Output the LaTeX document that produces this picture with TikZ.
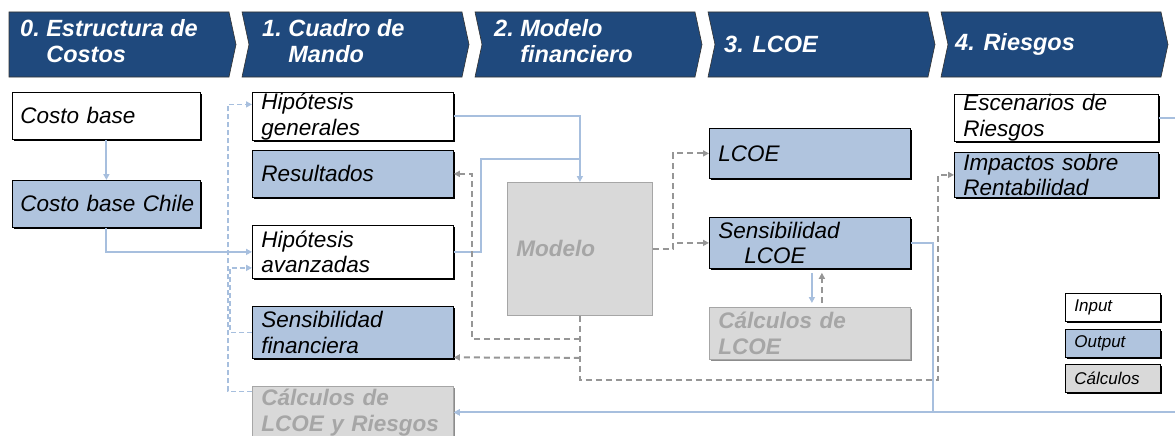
\documentclass[tikz,border=0pt]{standalone}
\usepackage{fontspec}
\setmainfont{Liberation Sans}
\usepackage{tikz}
\usetikzlibrary{arrows.meta,positioning,shadows}
\definecolor{hdrblue}{RGB}{31,73,125}
\definecolor{outblue}{RGB}{176,196,222}
\definecolor{lineblue}{RGB}{167,191,222}
\definecolor{calcgray}{RGB}{217,217,217}
\definecolor{calctext}{RGB}{166,166,166}
\definecolor{dashgray}{RGB}{150,150,150}

\begin{document}
\begin{tikzpicture}[
  x=1pt,y=-1pt,
  hdr/.style={fill=hdrblue,draw=black!80,line width=0.6pt},
  hdrtext/.style={anchor=west,text=white,inner sep=0pt,align=left,
                  font=\fontsize{23.5}{26}\selectfont\bfseries\itshape},
  box/.style={rectangle,anchor=north west,draw=black,line width=0.8pt,inner xsep=9pt,inner ysep=0pt,
              text width=183pt,minimum height=48pt,align=left,font=\fontsize{22.5}{25.5}\selectfont\itshape},
  shd/.style={drop shadow={shadow xshift=1.5pt,shadow yshift=-1.5pt,fill=black,opacity=1}},
  gshd/.style={drop shadow={shadow xshift=1.2pt,shadow yshift=-1.2pt,fill=black!45,opacity=1}},
  inbox/.style={box,shd,fill=white},
  outbox/.style={box,shd,fill=outblue},
  calcbox/.style={box,fill=calcgray,draw=calctext,text=calctext,
                  font=\fontsize{22.5}{25.5}\selectfont\bfseries\itshape},
  lgd/.style={box,shd,text width=77pt,minimum height=28pt,font=\fontsize{17}{19}\selectfont\itshape},
  bline/.style={lineblue,line width=2pt},
  barrow/.style={bline,-{Triangle[length=6pt,width=6pt]}},
  bdash/.style={lineblue,line width=1.6pt,dash pattern=on 5pt off 3pt,-{Triangle[length=6pt,width=6pt]}},
  gdash/.style={dashgray,line width=2pt,dash pattern=on 6pt off 4pt,-{Triangle[length=6pt,width=6pt]}},
]
\useasboundingbox (0,0) rectangle (1175,436);
\clip (0,0) rectangle (1175,436);
\foreach \i/\nd in {0/0,1/7,2/7,3/7,4/7}
  \draw[hdr] (9+233*\i,12) -- ++(220,0) -- ++(7,32.5) -- ++(-7,32.5) -- ++(-220,0) -- ++(\nd,-32.5) -- cycle;
\node[hdrtext] (h0) at (20,44.5)  {\begin{tabular}{@{}l@{\ }l@{}}0. & Estructura de\\ & Costos\end{tabular}};
\node[hdrtext] (h1) at (262,44.5) {\begin{tabular}{@{}l@{\ }l@{}}1. & Cuadro de\\ & Mando\end{tabular}};
\node[hdrtext] (h2) at (494,44.5) {\begin{tabular}{@{}l@{\ }l@{}}2. & Modelo\\ & financiero\end{tabular}};
\node[hdrtext] (h3) at (724,44.5) {3. LCOE};
\node[hdrtext] (h4) at (955,44.5) {4. Riesgos};

\node[inbox,text width=172pt,inner xsep=8pt,minimum height=47pt]  (cb)   at (12,92)   {Costo base};
\node[outbox,text width=172pt,inner xsep=8pt,minimum height=47pt] (cbc)  at (12,180)  {\mbox{Costo base Chile}};
\node[inbox]                                       (hgen) at (252,92)  {Hipótesis\\generales};
\node[outbox,minimum height=47pt]                  (res)  at (252,150) {Resultados};
\node[inbox,minimum height=53pt]                   (hav)  at (252,225) {Hipótesis\\avanzadas};
\node[outbox,minimum height=52pt]                  (sfin) at (252,306) {Sensibilidad\\financiera};
\node[calcbox,gshd,minimum height=52pt]            (clr)  at (252,386) {Cálculos de\\LCOE y Riesgos};
\node[calcbox,text width=127pt,minimum height=133pt] (mod) at (507,182) {Modelo};
\node[outbox,minimum height=50pt]                  (lcoe) at (709,128) {LCOE};
\node[outbox,minimum height=51pt]                  (slcoe) at (709,217) {Sensibilidad\\\hspace*{26pt}LCOE};
\node[calcbox,gshd,minimum height=52pt]            (clc)  at (709,307) {Cálculos de\\LCOE};
\node[inbox,text width=186pt,minimum height=47pt]  (esc)  at (954,94)  {Escenarios de\\Riesgos};
\node[outbox,text width=186pt,minimum height=45pt] (imp)  at (954,152) {Impactos sobre\\Rentabilidad};

\node[lgd,fill=white] (lin) at (1065,293) {Input};
\node[lgd,fill=outblue,below=7pt of lin]  (lout) {Output};
\node[lgd,fill=calcgray,below=6pt of lout] (lcal) {Cálculos};

\coordinate (jn) at (579.5,159);
\draw[barrow] (cb) -- (cbc); \draw[barrow] (cbc.south) |- (hav);
\draw[barrow] (hgen.east) -| (mod.north); \draw[bline] (hav.east) -- ++(27,0) |- (jn);
\draw[bdash] ([yshift=21pt]clr.west) -- ++(-24,0) |- ([yshift=12pt]hgen.west);
\draw[bdash] (sfin.west) -- ++(-22,0) |- ([yshift=-16pt]hav.west);
\draw[gdash] (mod.south) -- ++(0,64) -- ++(358,0) |- (imp.west);
\draw[gdash] ([yshift=-23pt]mod.south) -- ++(-108,0) |- (res.east);
\draw[gdash] ([yshift=-42pt]mod.south) -- ([yshift=-25pt]sfin.east);
\draw[gdash] (mod.east) -- ++(20,0) |- (lcoe.west); \draw[gdash] (mod.east) -- ++(20,0) |- (slcoe.west);
\draw[barrow] (slcoe.east) -- ++(22,0) |- (clr.east); \draw[barrow] (esc.east) -- ++(40,0) |- (clr.east);
\draw[barrow,shorten <=4pt,shorten >=4pt] ([xshift=2pt]slcoe.south) -- ([xshift=2pt]slcoe.south |- clc.north);
\draw[gdash,shorten <=4pt,shorten >=4pt] ([xshift=12pt]slcoe.south |- clc.north) -- ([xshift=12pt]slcoe.south);
\end{tikzpicture}
\end{document}
